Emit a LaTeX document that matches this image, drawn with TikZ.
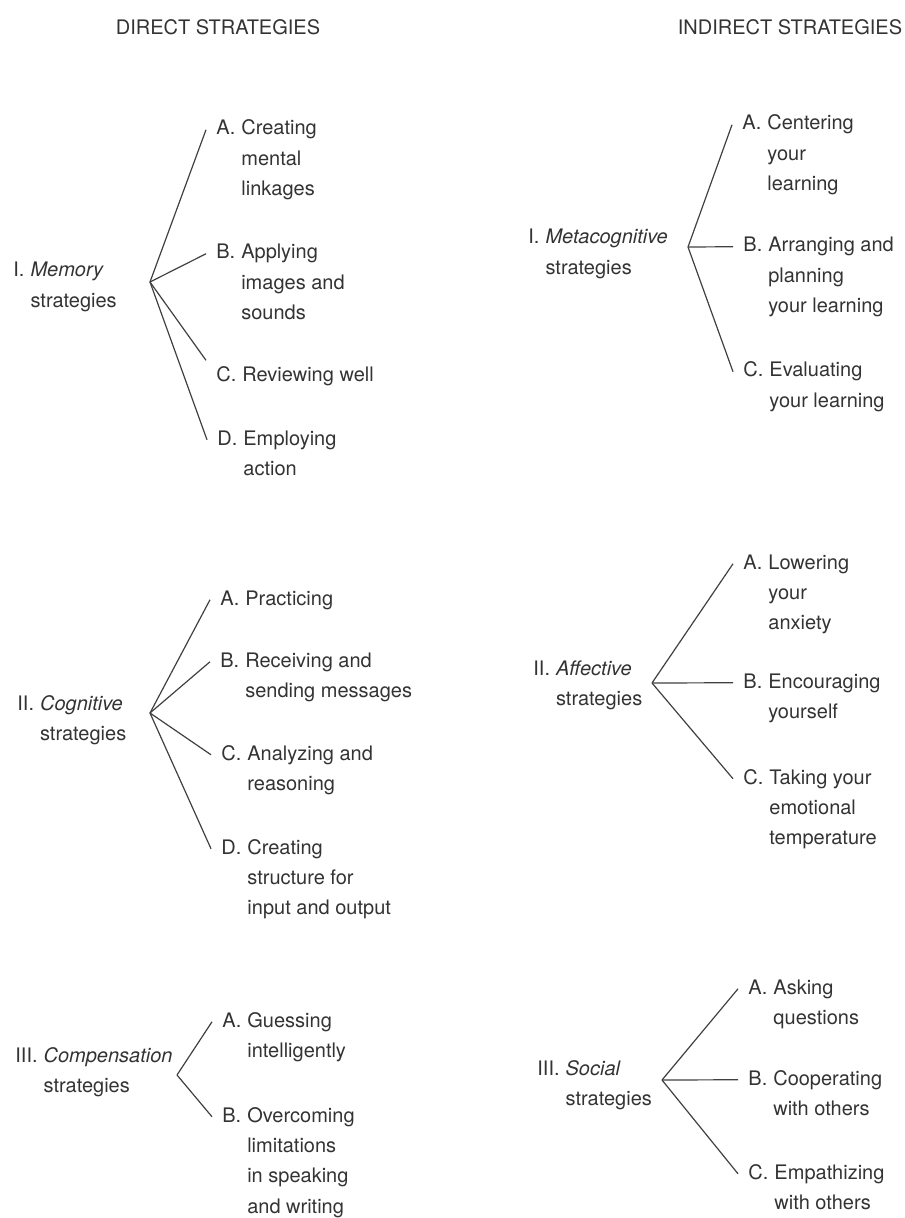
\documentclass[tikz,border=0pt]{standalone}
\usepackage{fontspec}
\setmainfont{TeX Gyre Heros}
\usepackage{tikz}

\newcommand{\hang}[2]{\begin{tabular}[t]{@{}l@{\hspace{3pt}}l@{}}#1 & #2\end{tabular}}

\begin{document}
\begin{tikzpicture}[
  x=0.5pt, y=-0.5pt,
  every node/.style={text=black!80, font=\fontsize{10}{15.2}\selectfont},
  head/.style={inner sep=0pt},
  root/.style={anchor=base west, inner sep=0pt},
  leaf/.style={anchor=base west, inner ysep=0pt, inner xsep=5pt},
  branch/.style={draw=black!75, line width=0.6pt}
]
\useasboundingbox (0,0) rectangle (904,1218);

\node[head] (direct) at (218,27) {DIRECT STRATEGIES};
\node[head] (indirect) at (790,27) {INDIRECT STRATEGIES};

% direct strategies
\node[root] (mem) at (13,277) {\hang{I.}{\emph{Memory}\\ & strategies}};
\coordinate (hubM) at (150,282);
\node[leaf] (mA) at (206,135) {\hang{A.}{Creating\\ & mental\\ & linkages}};
\node[leaf] (mB) at (206,259) {\hang{B.}{Applying\\ & images and\\ & sounds}};
\node[leaf] (mC) at (206,382) {\hang{C.}{Reviewing well}};
\node[leaf] (mD) at (207,445) {\hang{D.}{Employing\\ & action}};
\foreach \n in {mA,mB,mD} \draw[branch] (hubM) -- (\n.mid west);
\draw[branch] (hubM) -- (mC.north west);

\node[root] (cog) at (17,710) {\hang{II.}{\emph{Cognitive}\\ & strategies}};
\coordinate (hubC) at (150,713);
\node[leaf] (cA) at (210,605) {\hang{A.}{Practicing}};
\node[leaf] (cB) at (210,667) {\hang{B.}{Receiving and\\ & sending messages}};
\node[leaf] (cC) at (211,760) {\hang{C.}{Analyzing and\\ & reasoning}};
\node[leaf] (cD) at (211,854) {\hang{D.}{Creating\\ & structure for\\ & input and output}};
\foreach \n in {cA,cB,cC,cD} \draw[branch] (hubC) -- (\n.mid west);

\node[root] (comp) at (15,1062) {\hang{III.}{\emph{Compensation}\\ & strategies}};
\coordinate (hubP) at (177,1075);
\node[leaf] (pA) at (212,1027) {\hang{A.}{Guessing\\ & intelligently}};
\node[leaf] (pB) at (212,1122) {\hang{B.}{Overcoming\\ & limitations\\ & in speaking\\ & and writing}};
\foreach \n in {pA,pB} \draw[branch] (hubP) -- (\n.mid west);

% indirect strategies
\node[root] (meta) at (528,244) {\hang{I.}{\emph{Metacognitive}\\ & strategies}};
\coordinate (hubT) at (688,247);
\node[leaf] (tA) at (732,130) {\hang{A.}{Centering\\ & your\\ & learning}};
\node[leaf] (tB) at (733,252) {\hang{B.}{Arranging and\\ & planning\\ & your learning}};
\node[leaf] (tC) at (733,377) {\hang{C.}{Evaluating\\ & your learning}};
\foreach \n in {tA,tB,tC} \draw[branch] (hubT) -- (\n.mid west);

\node[root] (aff) at (533,675) {\hang{II.}{\emph{Affective}\\ & strategies}};
\coordinate (hubF) at (652,683);
\node[leaf] (fA) at (733,569) {\hang{A.}{Lowering\\ & your\\ & anxiety}};
\node[leaf] (fB) at (733,688) {\hang{B.}{Encouraging\\ & yourself}};
\node[leaf] (fC) at (733,784) {\hang{C.}{Taking your\\ & emotional\\ & temperature}};
\foreach \n in {fA,fB,fC} \draw[branch] (hubF) -- (\n.mid west);

\node[root] (soc) at (537,1075) {\hang{III.}{\emph{Social}\\ & strategies}};
\coordinate (hubS) at (662,1080);
\node[leaf] (sA) at (738,994) {\hang{A.}{Asking\\ & questions}};
\node[leaf] (sB) at (738,1085) {\hang{B.}{Cooperating\\ & with others}};
\node[leaf] (sC) at (738,1179) {\hang{C.}{Empathizing\\ & with others}};
\foreach \n in {sA,sB,sC} \draw[branch] (hubS) -- (\n.mid west);
\end{tikzpicture}
\end{document}
